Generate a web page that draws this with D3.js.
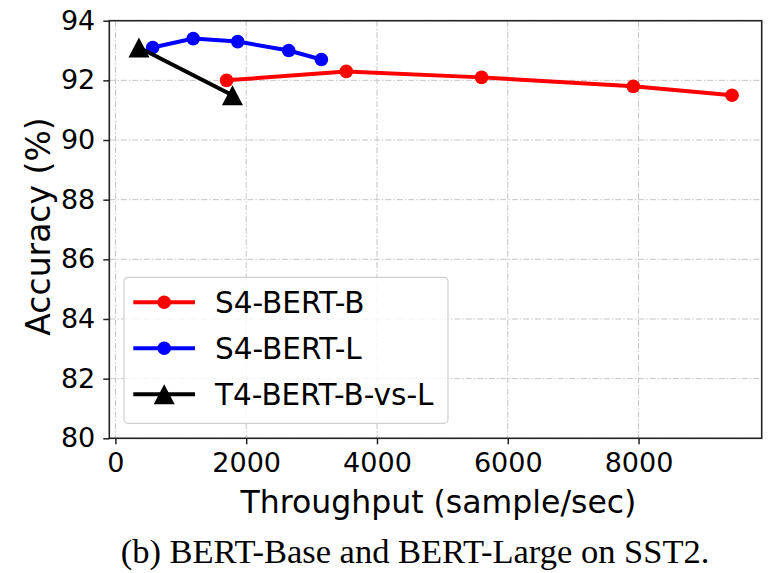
<!DOCTYPE html>
<html>
<head>
<meta charset="utf-8">
<script src="https://cdn.jsdelivr.net/npm/d3@7"></script>
<style>
  body { margin: 0; background: #fff; }
  svg { display: block; }
  .tick text { font-family: "DejaVu Sans", sans-serif; font-size: 27px; fill: #000; }
</style>
</head>
<body>
<div id="chart"></div>
<script>
// data
var seriesNames = ["S4-BERT-B", "S4-BERT-L", "T4-BERT-B-vs-L"];
var bertBX = [1700, 3530, 5600, 7920, 9430];
var bertBY = [92.0, 92.3, 92.1, 91.8, 91.5];
var bertLX = [570, 1190, 1870, 2650, 3150];
var bertLY = [93.1, 93.4, 93.3, 93.0, 92.7];
var t4X = [360, 1790];
var t4Y = [93.1, 91.5];
var xTicks = [0, 2000, 4000, 6000, 8000];
var yTicks = [80, 82, 84, 86, 88, 90, 92, 94];

var svgWidth = 768;
var svgHeight = 573;
var margin = { top: 20.7, right: 6.3, bottom: 134.7, left: 109.3 };
var width = svgWidth - margin.left - margin.right;
var height = svgHeight - margin.top - margin.bottom;

var series = [
  { name: seriesNames[0], xs: bertBX, ys: bertBY, color: "#ff0000", marker: "circle" },
  { name: seriesNames[1], xs: bertLX, ys: bertLY, color: "#0000ff", marker: "circle" },
  { name: seriesNames[2], xs: t4X, ys: t4Y, color: "#000000", marker: "triangle" }
];
series.forEach(function(s) {
  s.points = s.xs.map(function(x, i) { return { x: x, y: s.ys[i] }; });
});

var svg = d3.select("#chart")
  .append("svg")
  .attr("width", svgWidth)
  .attr("height", svgHeight);

var chartGroup = svg.append("g")
  .attr("transform", `translate(${margin.left}, ${margin.top})`);

// matplotlib style 5% autoscale padding on x
var allX = bertBX.concat(bertLX, t4X);
var xMin = d3.min(allX), xMax = d3.max(allX);
var pad = (xMax - xMin) * 0.05;

var xScale = d3.scaleLinear()
  .domain([xMin - pad, xMax + pad])
  .range([0, width]);
var yScale = d3.scaleLinear()
  .domain([80, 94])
  .range([height, 0]);

// grid
chartGroup.append("g").selectAll("line")
  .data(xTicks)
  .enter()
  .append("line")
  .attr("x1", d => xScale(d)).attr("x2", d => xScale(d))
  .attr("y1", 0).attr("y2", height)
  .attr("stroke", "#c4c4c4")
  .attr("stroke-width", 1)
  .attr("stroke-dasharray", "6,2,1.5,2");
chartGroup.append("g").selectAll("line")
  .data(yTicks)
  .enter()
  .append("line")
  .attr("y1", d => yScale(d)).attr("y2", d => yScale(d))
  .attr("x1", 0).attr("x2", width)
  .attr("stroke", "#c4c4c4")
  .attr("stroke-width", 1)
  .attr("stroke-dasharray", "6,2,1.5,2");

// axes
var xAxis = d3.axisBottom(xScale).tickValues(xTicks).tickFormat(d3.format("d"))
  .tickSize(6).tickSizeOuter(0).tickPadding(8.5);
var yAxis = d3.axisLeft(yScale).tickValues(yTicks).tickFormat(d3.format("d"))
  .tickSize(6).tickSizeOuter(0).tickPadding(8);

var gx = chartGroup.append("g")
  .attr("transform", `translate(0, ${height})`)
  .call(xAxis);
var gy = chartGroup.append("g")
  .call(yAxis);
[gx, gy].forEach(function(g) {
  g.select(".domain").remove();
  g.selectAll(".tick line").attr("stroke", "#222").attr("stroke-width", 1.5);
});

// lines and markers
var line = d3.line()
  .x(d => xScale(d.x))
  .y(d => yScale(d.y));

var triangle = "M0,-10L10.5,10L-10.5,10Z";

series.forEach(function(s) {
  var g = chartGroup.append("g");
  g.append("path")
    .datum(s.points)
    .attr("d", line)
    .attr("fill", "none")
    .attr("stroke", s.color)
    .attr("stroke-width", 4);
  if (s.marker === "circle") {
    g.selectAll("circle")
      .data(s.points)
      .enter()
      .append("circle")
      .attr("cx", d => xScale(d.x))
      .attr("cy", d => yScale(d.y))
      .attr("r", 6.8)
      .attr("fill", s.color);
  } else {
    g.selectAll(".tri")
      .data(s.points)
      .enter()
      .append("path")
      .attr("class", "tri")
      .attr("d", triangle)
      .attr("transform", d => `translate(${xScale(d.x)}, ${yScale(d.y)})`)
      .attr("fill", s.color);
  }
});

// frame
chartGroup.append("rect")
  .attr("width", width)
  .attr("height", height)
  .attr("fill", "none")
  .attr("stroke", "#222")
  .attr("stroke-width", 1.6);

// legend
var legend = chartGroup.append("g")
  .attr("transform", "translate(14.7, 256.6)");
legend.append("rect")
  .attr("width", 324)
  .attr("height", 146)
  .attr("rx", 4)
  .attr("fill", "#fff")
  .attr("fill-opacity", 0.8)
  .attr("stroke", "#d0d0d0")
  .attr("stroke-width", 1.2);

var rows = legend.selectAll(".row")
  .data(series)
  .enter()
  .append("g")
  .attr("class", "row")
  .attr("transform", (d, i) => `translate(0, ${25 + i * 46})`);
rows.append("line")
  .attr("x1", 9.3).attr("x2", 71)
  .attr("stroke", d => d.color)
  .attr("stroke-width", 4);
rows.filter(d => d.marker === "circle")
  .append("circle")
  .attr("cx", 40.2)
  .attr("r", 6.8)
  .attr("fill", d => d.color);
rows.filter(d => d.marker === "triangle")
  .append("path")
  .attr("d", triangle)
  .attr("transform", "translate(40.2, 0)")
  .attr("fill", d => d.color);
rows.append("text")
  .attr("x", 91)
  .attr("dy", "0.36em")
  .attr("font-family", "DejaVu Sans, sans-serif")
  .attr("font-size", 29.5)
  .text(d => d.name);

// axis labels
chartGroup.append("text")
  .attr("transform", `translate(${-59.3}, ${height / 2 - 3}) rotate(-90)`)
  .attr("text-anchor", "middle")
  .attr("font-family", "DejaVu Sans, sans-serif")
  .attr("font-size", 33)
  .text("Accuracy (%)");

chartGroup.append("text")
  .attr("x", width / 2 + 3)
  .attr("y", height + 75)
  .attr("text-anchor", "middle")
  .attr("font-family", "DejaVu Sans, sans-serif")
  .attr("font-size", 31.5)
  .text("Throughput (sample/sec)");

// caption
svg.append("text")
  .attr("x", 415)
  .attr("y", 563)
  .attr("text-anchor", "middle")
  .attr("font-family", "Liberation Serif, serif")
  .attr("font-size", 34.5)
  .text("(b) BERT-Base and BERT-Large on SST2.");
</script>
</body>
</html>
